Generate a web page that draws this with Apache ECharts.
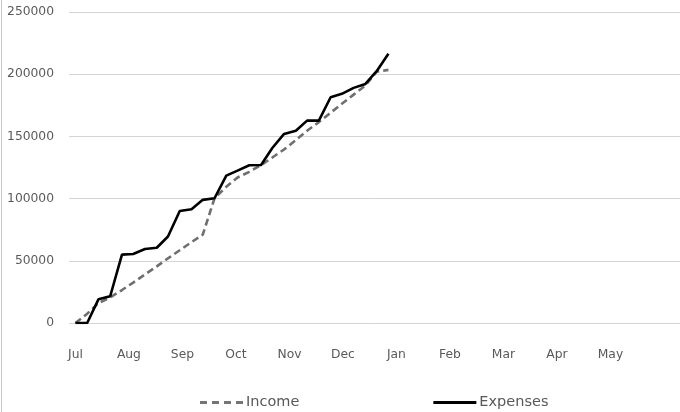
<!DOCTYPE html>
<html>
<head>
<meta charset="utf-8">
<script src="https://cdn.jsdelivr.net/npm/echarts@6/dist/echarts.min.js"></script>
<style>
html,body{margin:0;padding:0;background:#fff;}
#chart{width:680px;height:412px;}
</style>
</head>
<body>
<div id="chart"></div>
<script>
// Month tick labels (axis units: months since July)
var monthLabels = ['Jul','Aug','Sep','Oct','Nov','Dec','Jan','Feb','Mar','Apr','May'];
// Position of each reporting period, in months since the start of July
var periodMonth = [0.00,0.22,0.43,0.65,0.87,1.08,1.30,1.52,1.73,1.95,2.17,2.38,2.60,2.82,
                   3.03,3.25,3.47,3.68,3.90,4.12,4.33,4.55,4.77,4.98,5.20,5.42,5.63,5.85];
var income = [0,7500,16000,20500,26500,32500,39000,45500,52000,58500,65000,71000,100300,109500,
              117000,121500,127000,133000,139500,147000,154500,161500,169000,176200,183600,190900,202000,203500];
var expenses = [0,0,19000,21500,55000,55500,59500,60500,69500,90000,91500,99000,100300,118500,
                122500,126800,127000,140700,152000,154500,162700,162700,181500,184200,189000,192200,202400,216400];
var yTicks = {min:0, max:250000, step:50000};

function pairs(xs, ys){ return ys.map(function(v,i){ return [xs[i], v]; }); }
var tickIdx = monthLabels.map(function(_,i){ return i; });

var font = 'DejaVu Sans';
var dashIcon = 'path://M0,0h7v3h-7z M12,0h7v3h-7z M24,0h7v3h-7z M36,0h7v3h-7z';
var solidIcon = 'path://M0,0h43v3h-43z';
var chart = echarts.init(document.getElementById('chart'), null, {renderer:'canvas'});
chart.setOption({
  animation:false,
  backgroundColor:'#ffffff',
  grid:{left:69, right:0, top:12, bottom:89, containLabel:false},
  graphic:[{type:'line', shape:{x1:1.5,y1:0,x2:1.5,y2:412}, style:{stroke:'#c8c8c8', lineWidth:1}, silent:true}],
  xAxis:{
    type:'value', min:-0.12, max:11.3,
    axisLine:{show:false}, axisTick:{show:false}, splitLine:{show:false},
    axisLabel:{
      customValues: tickIdx,
      formatter:function(v){ var i=Math.round(v); return monthLabels[i]||''; },
      color:'#595959', fontFamily:font, fontSize:12.3, margin:26
    }
  },
  yAxis:{
    type:'value', min:yTicks.min, max:yTicks.max, interval:yTicks.step,
    axisLine:{show:false}, axisTick:{show:false},
    splitLine:{lineStyle:{color:'#d4d4d4', width:1}},
    axisLabel:{color:'#595959', fontFamily:font, fontSize:12.3, margin:15,
      formatter:function(v){ return String(v); }}
  },
  legend:{
    left:195, top:390, itemGap:134, itemWidth:43, itemHeight:3,
    textStyle:{color:'#595959', fontFamily:font, fontSize:14.5, padding:[0,0,0,-2]},
    data:[{name:'Income', icon:dashIcon, itemStyle:{color:'#757575'}},
          {name:'Expenses', icon:solidIcon, itemStyle:{color:'#000000'}}]
  },
  series:[
    {name:'Income', type:'line', data:pairs(periodMonth, income), symbol:'none',
     lineStyle:{color:'#6f6f6f', width:2.6, type:[7,4], cap:'butt'}, itemStyle:{color:'#6f6f6f'}, z:2},
    {name:'Expenses', type:'line', data:pairs(periodMonth, expenses), symbol:'none',
     lineStyle:{color:'#000000', width:2.6}, itemStyle:{color:'#000000'}, z:3}
  ]
});
</script>
</body>
</html>
